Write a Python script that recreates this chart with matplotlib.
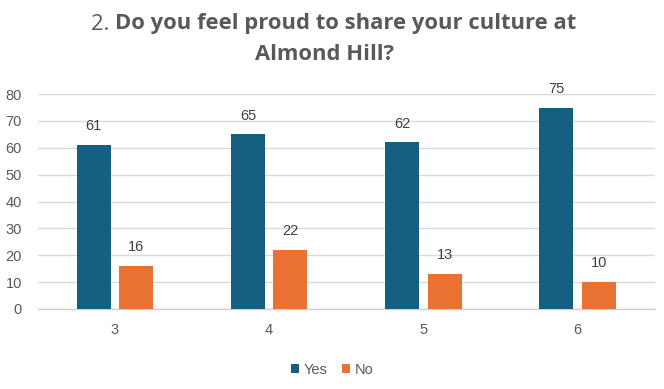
import matplotlib
matplotlib.use("Agg")
import matplotlib.pyplot as plt
import numpy as np

categories = ["3", "4", "5", "6"]
yes_values = [61, 65, 62, 75]
no_values = [16, 22, 13, 10]
series_names = ["Yes", "No"]
yticks = [0, 10, 20, 30, 40, 50, 60, 70, 80]

blue = "#156082"
orange = "#E97132"
gray = "#595959"

plt.rcParams['font.family'] = ['Liberation Sans', 'DejaVu Sans']

fig = plt.figure(figsize=(6.64, 3.89), dpi=100)
ax = fig.add_axes([0.057, 0.206, 0.929, 0.552])

x = np.arange(len(categories))
w = 0.22
off = 0.1375
b1 = ax.bar(x - off, yes_values, w, color=blue, label=series_names[0], zorder=3)
b2 = ax.bar(x + off, no_values, w, color=orange, label=series_names[1], zorder=3)

for bars in (b1, b2):
    for r in bars:
        ax.annotate(f"{int(r.get_height())}", (r.get_x() + r.get_width() / 2, r.get_height()),
                    xytext=(0, 8.5), textcoords="offset points", ha="center", va="bottom",
                    fontsize=10.5, color="#404040")

ax.set_xlim(-0.5, len(categories) - 0.5)
ax.set_ylim(0, 80)
ax.set_yticks(yticks)
ax.set_xticks(x)
ax.set_xticklabels(categories)
ax.tick_params(axis='both', length=0, labelsize=10.5, labelcolor=gray)
ax.tick_params(axis='x', pad=10.5)
ax.tick_params(axis='y', pad=11.5)
ax.grid(axis='y', color="#d9d9d9", linewidth=1, zorder=0)
for s in ["top", "right", "left"]:
    ax.spines[s].set_visible(False)
ax.spines["bottom"].set_color("#d0d0d0")
ax.spines["bottom"].set_linewidth(1)

leg = fig.legend(handles=[b1, b2], labels=series_names, loc="center", bbox_to_anchor=(0.5, 0.05),
                 ncol=2, frameon=False, fontsize=10.5, handlelength=0.55, handleheight=0.55,
                 handletextpad=0.3, columnspacing=1.0, labelcolor=gray)

# Title with mixed weights
tfont = ['Open Sans', 'DejaVu Sans']
fs = 15.8
fig.canvas.draw()
r = fig.canvas.get_renderer()
t1 = fig.text(0, 0, "2. ", fontsize=fs, color=gray, family=tfont, va="center")
t2 = fig.text(0, 0, "Do you feel proud to share your culture at", fontsize=fs, color=gray,
              family=tfont, fontweight="bold", va="center")
w1 = t1.get_window_extent(r).width / fig.bbox.width
w2 = t2.get_window_extent(r).width / fig.bbox.width
start = 0.503 - (w1 + w2) / 2
ty = 1 - 24 / 389
t1.set_position((start, ty))
t2.set_position((start + w1, ty))
fig.text(0.488, 1 - 55 / 389, "Almond Hill?", fontsize=fs, color=gray, family=tfont,
         fontweight="bold", ha="center", va="center")

fig.savefig("out.png", dpi=100)
